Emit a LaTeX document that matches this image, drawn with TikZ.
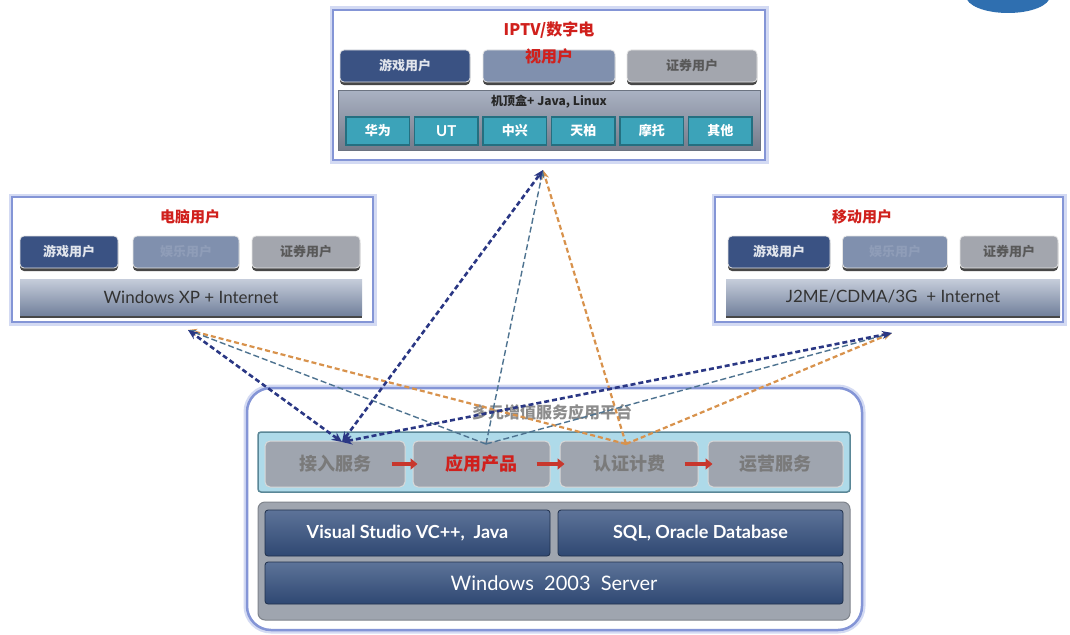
\documentclass[tikz,border=0pt]{standalone}
\usepackage{fontspec}
\usetikzlibrary{arrows.meta,shadows}
\newfontfamily\cjk{Noto Sans CJK SC}
\newfontfamily\lat{Lato}
\definecolor{frame}{HTML}{8495D6}
\definecolor{glow}{HTML}{D3DAF3}
\definecolor{navybtn}{HTML}{3A5283}
\definecolor{midbtn}{HTML}{8090AE}
\definecolor{graybtn}{HTML}{A3A6AE}
\definecolor{titlered}{HTML}{D0201C}
\definecolor{tealcell}{HTML}{3CA3B9}
\definecolor{tealedge}{HTML}{246F80}
\definecolor{stbgray}{HTML}{9BA4B8}
\definecolor{platblue}{HTML}{AEDAE9}
\definecolor{platedge}{HTML}{5A8797}
\definecolor{platgray}{HTML}{9FA5AF}
\definecolor{deepblue}{HTML}{34507F}
\definecolor{navyline}{HTML}{2A3784}
\definecolor{slateline}{HTML}{4E7390}
\definecolor{orangeline}{HTML}{D8924C}
\definecolor{arrowred}{HTML}{C8372D}
\definecolor{logoblue}{HTML}{2F6FB0}
\tikzset{
  panel/.style={draw=frame, line width=2.5pt, fill=white,
    preaction={draw=glow, line width=7pt}},
  btnbase/.style={rounded corners=4pt, draw=white!80!gray, line width=0.8pt,
    drop shadow={shadow xshift=0pt, shadow yshift=-3pt, opacity=0.9, fill=black!80}},
  navyb/.style={btnbase, fill=navybtn, text=white!85!navybtn},
  midb/.style={btnbase, fill=midbtn, text=midbtn!88!white},
  grayb/.style={btnbase, fill=graybtn, text=black!65},
  osbar/.style={draw=none, top color=white!55!midbtn, bottom color=midbtn!90!black,
    drop shadow={shadow xshift=0pt, shadow yshift=-3pt, opacity=0.9, fill=black!80},
    text=black!80, font=\lat\fontsize{17}{17}\selectfont},
  cell/.style={draw=tealedge, line width=1.5pt, fill=tealcell, text=white,
    minimum width=63.5pt, minimum height=28pt, font=\cjk\bfseries\fontsize{13}{13}\selectfont},
  svc/.style={rounded corners=5pt, draw=white!70!gray, line width=1pt, fill=platgray,
    minimum height=46pt, text=black!52, font=\cjk\bfseries\fontsize{18}{18}\selectfont},
  tech/.style={rounded corners=3pt, top color=deepblue!80!white, bottom color=deepblue!90!black,
    draw=deepblue!60!black, line width=0.8pt, text=white, font=\lat\bfseries\fontsize{18}{18}\selectfont},
  ttl/.style={text=titlered, font=\cjk\bfseries\fontsize{15}{15}\selectfont},
  btnfont/.style={font=\cjk\bfseries\fontsize{13}{13}\selectfont},
  navyflow/.style={navyline, line width=2.6pt, dash pattern=on 5pt off 3pt},
  slateflow/.style={slateline, line width=1.4pt, dash pattern=on 6pt off 3pt},
  orangeflow/.style={orangeline, line width=2.2pt, dash pattern=on 5pt off 3pt},
  redarrow/.style={arrowred, line width=4.5pt, -{Triangle[length=7pt,width=11pt]}}
}
\begin{document}
\begin{tikzpicture}[x=1pt,y=-1pt]
\useasboundingbox (0,0) rectangle (1070,634);
\fill[white] (0,0) rectangle (1070,634);

% logo fragment in the corner
\begin{scope}
\clip (0,0) rectangle (1070,634);
\fill[logoblue] (1008,-4) ellipse [x radius=42pt, y radius=17pt];
\end{scope}

% ---------- IPTV users ----------
\node[panel, minimum width=432pt, minimum height=150pt] (iptv) at (549,85) {};
\node[navyb, btnfont, minimum width=130pt, minimum height=32pt] (ib1) at (405,66) {游戏用户};
\node[midb, btnfont, minimum width=132pt, minimum height=32pt] (ib2) at (549,66) {};
\node[grayb, btnfont, minimum width=130pt, minimum height=32pt] (ib3) at (692,66) {证券用户};
\node[ttl, align=center, font=\cjk\bfseries\fontsize{16}{27}\selectfont] (iptvt) at (549,43) {IPTV/数字电\\视用户};
\node[draw=stbgray!70!black, line width=1pt, top color=stbgray!85!white, bottom color=stbgray!75!black,
      minimum width=422pt, minimum height=60pt] (stb) at (549,120) {};
\node[font=\cjk\bfseries\fontsize{12}{12}\selectfont, text=black!85] (stbt) at (549,102) {机顶盒+ Java, Linux};
\node[cell] (c1) at (377.75,131) {华为};
\node[cell, font=\lat\bfseries\fontsize{15}{15}\selectfont] (c2) at (446.25,131) {UT};
\node[cell] (c3) at (514.75,131) {中兴};
\node[cell] (c4) at (583.25,131) {天柏};
\node[cell] (c5) at (651.75,131) {摩托};
\node[cell] (c6) at (720.25,131) {其他};

% ---------- PC users ----------
\node[panel, minimum width=361pt, minimum height=125pt] (pc) at (192.5,259.5) {};
\node[ttl] (pct) at (190,217) {电脑用户};
\node[navyb, btnfont, minimum width=98pt, minimum height=32pt] (pb1) at (69,252) {游戏用户};
\node[midb, btnfont, minimum width=106pt, minimum height=32pt] (pb2) at (186,252) {娱乐用户};
\node[grayb, btnfont, minimum width=108pt, minimum height=32pt] (pb3) at (306,252) {证券用户};
\node[osbar, minimum width=342pt, minimum height=36pt] (pbar) at (191,297) {Windows XP + Internet};

% ---------- mobile users ----------
\node[panel, minimum width=348pt, minimum height=125pt] (mob) at (889,259.5) {};
\node[ttl] (mobt) at (862,217) {移动用户};
\node[navyb, btnfont, minimum width=102pt, minimum height=32pt] (mb1) at (779,252) {游戏用户};
\node[midb, btnfont, minimum width=105pt, minimum height=32pt] (mb2) at (895,252) {娱乐用户};
\node[grayb, btnfont, minimum width=98pt, minimum height=32pt] (mb3) at (1009,252) {证券用户};
\node[osbar, minimum width=334pt, minimum height=36pt] (mbar) at (893,297) {J2ME/CDMA/3G\ \ + Internet};

% ---------- service platform ----------
\node[panel, rounded corners=24pt, minimum width=615pt, minimum height=242pt] (plat) at (554.5,509) {};
\node[text=black!45, font=\cjk\bfseries\fontsize{16}{16}\selectfont] (platt) at (552,412) {多元增值服务应用平台};
\node[fill=platblue, draw=platedge, line width=1.5pt, rounded corners=3pt,
      minimum width=592pt, minimum height=60pt] (svcrow) at (554,462) {};
\node[svc, minimum width=140pt] (s1) at (335,464) {接入服务};
\node[svc, minimum width=137pt, text=titlered] (s2) at (481.5,464) {应用产品};
\node[svc, minimum width=138pt] (s3) at (629,464) {认证计费};
\node[svc, minimum width=135pt] (s4) at (775.5,464) {运营服务};
\draw[redarrow] ([xshift=-14pt]s1.east) -- ([xshift=5pt]s2.west);
\draw[redarrow] ([xshift=-14pt]s2.east) -- ([xshift=5pt]s3.west);
\draw[redarrow] ([xshift=-14pt]s3.east) -- ([xshift=5pt]s4.west);

\node[fill=platgray, draw=platgray!80!black, line width=1pt, rounded corners=7pt,
      minimum width=592pt, minimum height=118pt] (base) at (554,561) {};
\node[tech, minimum width=285pt, minimum height=46pt] (t1) at (407.5,533) {Visual Studio VC++,\ \ Java};
\node[tech, minimum width=285pt, minimum height=46pt] (t2) at (700.5,533) {SQL, Oracle Database};
\node[tech, minimum width=578pt, minimum height=42pt, font=\lat\fontsize{20}{20}\selectfont] (t3) at (554,583) {Windows\ \ 2003\ \ Server};

% ---------- connection points ----------
\coordinate (T) at (543,170);
\coordinate (L) at (188,330);
\coordinate (R) at (892,333);
\coordinate (A) at (342,442);
\coordinate (B) at (486,444);
\coordinate (C) at (626,444);

% ---------- dashed flows ----------
\draw[orangeflow, -{Stealth[length=9pt,width=7pt]}] (C) -- (T);
\draw[orangeflow, -{Stealth[length=9pt,width=7pt]}] (C) -- (L);
\draw[orangeflow, -{Stealth[length=9pt,width=7pt]}] (C) -- (R);
\draw[slateflow, -{Stealth[length=8pt,width=6pt]}] (B) -- (T);
\draw[slateflow, -{Stealth[length=8pt,width=6pt]}] (B) -- (L);
\draw[slateflow, -{Stealth[length=8pt,width=6pt]}] (B) -- (R);
\draw[navyflow, {Stealth[length=10pt,width=9pt]}-{Stealth[length=10pt,width=8pt]}] (A) -- (T);
\draw[navyflow, {Stealth[length=10pt,width=9pt]}-{Stealth[length=10pt,width=8pt]}] (A) -- (L);
\draw[navyflow, {Stealth[length=10pt,width=9pt]}-{Stealth[length=10pt,width=8pt]}] (A) -- (R);
\end{tikzpicture}
\end{document}
